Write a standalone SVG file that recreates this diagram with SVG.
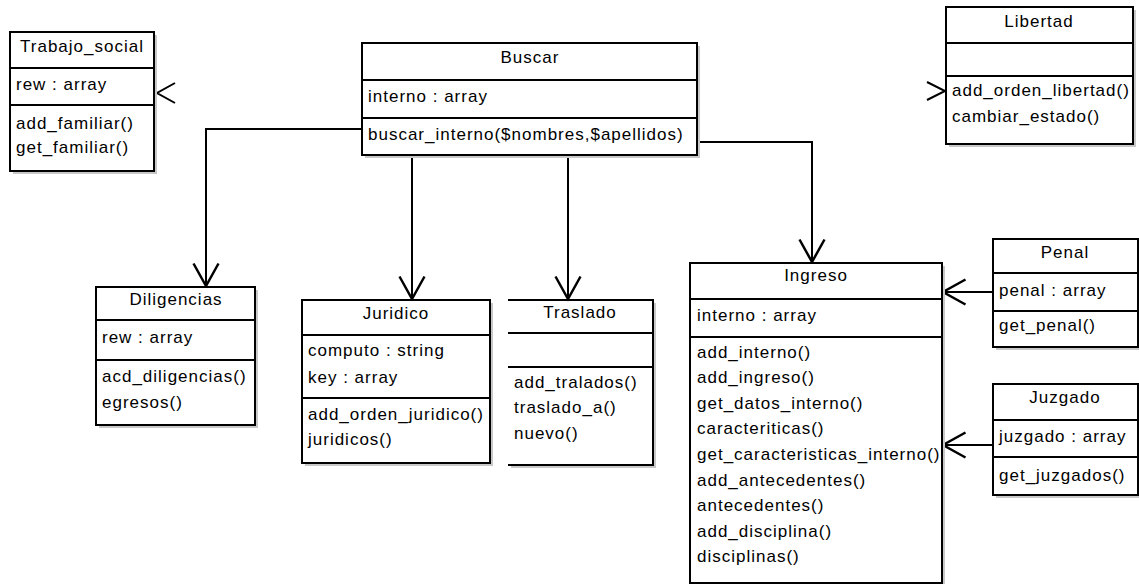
<svg xmlns="http://www.w3.org/2000/svg" width="1139" height="584" viewBox="0 0 1139 584">
<defs>
<style>
.box{fill:#fff;stroke:#000;stroke-width:2}
.sh{fill:#c8c8c8}
.ln{stroke:#000;stroke-width:2;fill:none}
text{font-family:"Liberation Sans",Arial,sans-serif;font-size:17px;letter-spacing:1px;fill:#000}
.t{text-anchor:middle}
</style>
<marker id="open" markerUnits="userSpaceOnUse" markerWidth="30" markerHeight="30" viewBox="-20 -12 22 24" refX="0" refY="0" orient="auto">
<path d="M-18,-10 L0,0 L-18,10" fill="none" stroke="#000" stroke-width="2"/>
</marker>
</defs>
<rect width="1139" height="584" fill="#fff"/>

<g id="connectors">
<path class="ln" d="M362,129 H206 V286" marker-end="url(#open)"/>
<path class="ln" d="M412,155 V299" marker-end="url(#open)"/>
<path class="ln" d="M568,155 V299" marker-end="url(#open)"/>
<path class="ln" d="M697,142 H812 V262" marker-end="url(#open)"/>
<path class="ln" d="M993,292 H943" marker-end="url(#open)"/>
<path class="ln" d="M993,445 H943" marker-end="url(#open)"/>
<path class="ln" d="M175,83 L157,93 L175,103"/>
<path class="ln" d="M927,82 L945,91 L927,100"/>
</g>

<g id="Trabajo_social">
<rect class="sh" x="13" y="35" width="144" height="139"/>
<rect class="box" x="10" y="32" width="144" height="139"/>
<path class="ln" d="M10,68 H154 M10,105 H154"/>
<text class="t" x="82" y="52">Trabajo_social</text>
<text x="16" y="90">rew : array</text>
<text x="16" y="129">add_familiar()</text>
<text x="16" y="153">get_familiar()</text>
</g>

<g id="Buscar">
<rect class="sh" x="365" y="46" width="335" height="112"/>
<rect class="box" x="362" y="43" width="335" height="112"/>
<path class="ln" d="M362,80 H697 M362,118 H697"/>
<text class="t" x="530" y="63">Buscar</text>
<text x="368" y="102">interno : array</text>
<text x="368" y="140">buscar_interno($nombres,$apellidos)</text>
</g>

<g id="Libertad">
<rect class="sh" x="949" y="10" width="187" height="137"/>
<rect class="box" x="946" y="7" width="187" height="137"/>
<path class="ln" d="M946,43 H1133 M946,76 H1133"/>
<text class="t" x="1039" y="27">Libertad</text>
<text x="952" y="96">add_orden_libertad()</text>
<text x="952" y="122">cambiar_estado()</text>
</g>

<g id="Diligencias">
<rect class="sh" x="99" y="290" width="159" height="138"/>
<rect class="box" x="96" y="287" width="159" height="138"/>
<path class="ln" d="M96,320 H255 M96,360 H255"/>
<text class="t" x="176" y="305">Diligencias</text>
<text x="102" y="343">rew : array</text>
<text x="102" y="382">acd_diligencias()</text>
<text x="102" y="408">egresos()</text>
</g>

<g id="Juridico">
<rect class="sh" x="305" y="303" width="188" height="163"/>
<rect class="box" x="302" y="300" width="188" height="163"/>
<path class="ln" d="M302,335 H490 M302,398 H490"/>
<text class="t" x="396" y="319">Juridico</text>
<text x="308" y="356">computo : string</text>
<text x="308" y="383">key : array</text>
<text x="308" y="420">add_orden_juridico()</text>
<text x="308" y="445">juridicos()</text>
</g>

<g id="Traslado">
<path class="sh" d="M653,303 H656 V468 H511 V465 H653 Z"/>
<path class="ln" d="M508,300 H653 V465 H508 M508,333 H653 M508,367 H653"/>
<text class="t" x="580" y="318">Traslado</text>
<text x="514" y="388">add_tralados()</text>
<text x="514" y="413">traslado_a()</text>
<text x="514" y="439">nuevo()</text>
</g>

<g id="Ingreso">
<rect class="sh" x="693" y="266" width="252" height="320"/>
<rect class="box" x="690" y="263" width="252" height="320"/>
<path class="ln" d="M690,299 H942 M690,337 H942"/>
<text class="t" x="816" y="281">Ingreso</text>
<text x="697" y="321">interno : array</text>
<text x="697" y="358">add_interno()</text>
<text x="697" y="383">add_ingreso()</text>
<text x="697" y="409">get_datos_interno()</text>
<text x="697" y="434">caracteriticas()</text>
<text x="697" y="460">get_caracteristicas_interno()</text>
<text x="697" y="486">add_antecedentes()</text>
<text x="697" y="511">antecedentes()</text>
<text x="697" y="537">add_disciplina()</text>
<text x="697" y="562">disciplinas()</text>
</g>

<g id="Penal">
<rect class="sh" x="996" y="242" width="145" height="108"/>
<rect class="box" x="993" y="239" width="145" height="108"/>
<path class="ln" d="M993,273 H1138 M993,311 H1138"/>
<text class="t" x="1065" y="258">Penal</text>
<text x="999" y="296">penal : array</text>
<text x="999" y="331">get_penal()</text>
</g>

<g id="Juzgado">
<rect class="sh" x="996" y="387" width="145" height="111"/>
<rect class="box" x="993" y="384" width="145" height="111"/>
<path class="ln" d="M993,420 H1138 M993,457 H1138"/>
<text class="t" x="1065" y="403">Juzgado</text>
<text x="999" y="442">juzgado : array</text>
<text x="999" y="481">get_juzgados()</text>
</g>
</svg>
